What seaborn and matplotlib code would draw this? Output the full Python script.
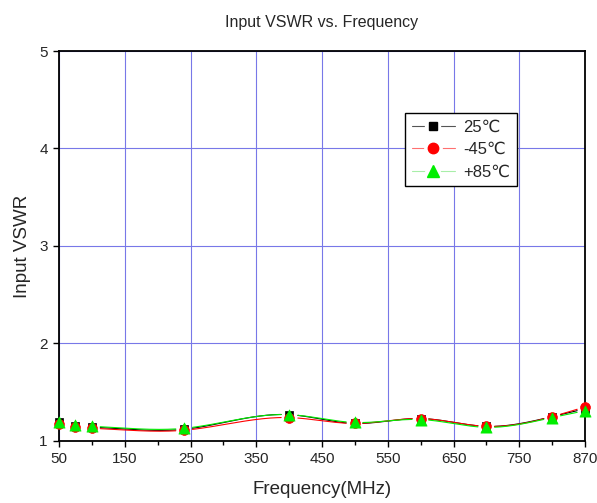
import numpy as np
import pandas as pd
import matplotlib
matplotlib.use("Agg")
import matplotlib.pyplot as plt
from matplotlib.lines import Line2D
from matplotlib.legend_handler import HandlerTuple
from matplotlib.ticker import FixedLocator
import seaborn as sns

# ---- data ----
freq = [50, 75, 100, 240, 400, 500, 600, 700, 800, 850]
vswr_25 = [1.19, 1.15, 1.14, 1.12, 1.27, 1.18, 1.23, 1.15, 1.25, 1.33]
vswr_m45 = [1.17, 1.14, 1.13, 1.11, 1.24, 1.18, 1.23, 1.15, 1.25, 1.35]
vswr_p85 = [1.19, 1.16, 1.15, 1.13, 1.27, 1.19, 1.22, 1.14, 1.24, 1.31]
series_labels = ["25\u2103", "-45\u2103", "+85\u2103"]
xtick_pos = [50, 150, 250, 350, 450, 550, 650, 750, 850]
xtick_labels = ["50", "150", "250", "350", "450", "550", "650", "750", "870"]
yticks = [1, 2, 3, 4, 5]

sns.set_style("white")
plt.rcParams["font.family"] = ["Liberation Sans", "DejaVu Sans"]


def natural_spline(x, y, n=600):
    x = np.asarray(x, float)
    y = np.asarray(y, float)
    k = len(x)
    h = np.diff(x)
    A = np.zeros((k, k))
    b = np.zeros(k)
    A[0, 0] = A[-1, -1] = 1
    for i in range(1, k - 1):
        A[i, i - 1] = h[i - 1]
        A[i, i] = 2 * (h[i - 1] + h[i])
        A[i, i + 1] = h[i]
        b[i] = 6 * ((y[i + 1] - y[i]) / h[i] - (y[i] - y[i - 1]) / h[i - 1])
    M = np.linalg.solve(A, b)
    xs = np.linspace(x[0], x[-1], n)
    idx = np.clip(np.searchsorted(x, xs) - 1, 0, k - 2)
    x0, x1 = x[idx], x[idx + 1]
    hh = x1 - x0
    t0 = x1 - xs
    t1 = xs - x0
    ys = (M[idx] * t0**3 / (6 * hh) + M[idx + 1] * t1**3 / (6 * hh)
          + (y[idx] / hh - M[idx] * hh / 6) * t0
          + (y[idx + 1] / hh - M[idx + 1] * hh / 6) * t1)
    # leave a small gap around each marker (Origin style)
    d = np.min(np.abs(xs[:, None] - x[None, :]), axis=1)
    ys = np.where(d < 12, np.nan, ys)
    return xs, ys


fig = plt.figure(figsize=(5.97, 5.03), dpi=100)
ax = fig.add_axes([0.0988, 0.1233, 0.8812, 0.7753])

series = [
    (vswr_25, "black", "#555555", "s", 36, 6),
    (vswr_m45, "#ff0000", "#ff7070", "o", 50, 7.5),
    (vswr_p85, "#00ee00", "#a8eea8", "^", 65, 8.5),
]
for vals, col, lcol, mk, sz, ms in series:
    xs, ys = natural_spline(freq, vals)
    ax.plot(xs, ys, color=col, lw=0.8, zorder=3)
for vals, col, lcol, mk, sz, ms in series:
    df = pd.DataFrame({"f": freq, "v": vals})
    sns.scatterplot(data=df, x="f", y="v", color=col, marker=mk, s=sz,
                    edgecolor=col, linewidth=0.5, ax=ax, zorder=4, clip_on=False)

ax.set_xlim(50, 850)
ax.set_ylim(1, 5)
ax.xaxis.set_major_locator(FixedLocator(xtick_pos))
ax.set_xticklabels(xtick_labels)
ax.xaxis.set_minor_locator(FixedLocator([100, 200, 300, 400, 500, 600, 700, 800]))
ax.set_yticks(yticks)
ax.set_yticklabels([str(v) for v in yticks])

ax.grid(True, which="major", color="#7878e8", lw=0.8)
ax.tick_params(axis="both", which="major", direction="out", length=4,
               width=1, labelsize=11, color="black", bottom=True, left=True, pad=4)
ax.tick_params(axis="x", which="minor", direction="out", length=3, width=1,
               bottom=True, color="black")
for sp in ax.spines.values():
    sp.set_visible(True)
    sp.set_color("black")
    sp.set_linewidth(1.3)

ax.set_xlabel("Frequency(MHz)", fontsize=13.5, labelpad=11)
ax.set_ylabel("Input VSWR", fontsize=13.5, labelpad=6)
ax.set_title("Input VSWR vs. Frequency", fontsize=11.5, pad=17)

handles = []
for vals, col, lcol, mk, sz, ms in series:
    line = Line2D([], [], color=lcol, lw=0.8)
    halo = Line2D([], [], linestyle="none", marker=mk, markersize=ms,
                  markerfacecolor="white", markeredgecolor="white",
                  markeredgewidth=6)
    mark = Line2D([], [], linestyle="none", marker=mk, markersize=ms,
                  markerfacecolor=col, markeredgecolor=col)
    handles.append((line, halo, mark))
leg = ax.legend(handles, series_labels, loc="upper left",
                bbox_to_anchor=(0.658, 0.841), borderaxespad=0,
                fontsize=12, frameon=True, fancybox=False, framealpha=1,
                edgecolor="black", handlelength=2.6, labelspacing=0.45,
                borderpad=0.4, handletextpad=0.5,
                handler_map={tuple: HandlerTuple(ndivide=1)})
leg.get_frame().set_linewidth(1.0)

fig.savefig("out.png", dpi=100)
